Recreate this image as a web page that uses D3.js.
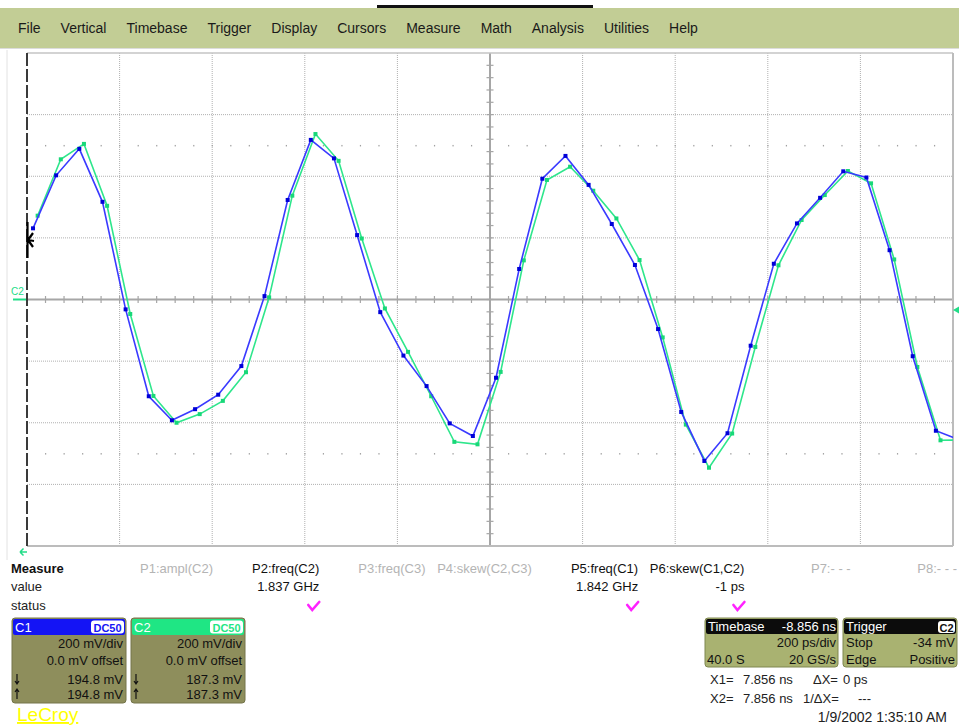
<!DOCTYPE html>
<html>
<head>
<meta charset="utf-8">
<script src="https://cdn.jsdelivr.net/npm/d3@7"></script>
<style>
body { margin: 0; background: #fff; }
svg { display: block; font-family: "Liberation Sans", Arial, sans-serif; }
</style>
</head>
<body>
<div id="scope"></div>
<script>
// ********* data
var menuItems = ["File", "Vertical", "Timebase", "Trigger", "Display", "Cursors", "Measure", "Math", "Analysis", "Utilities", "Help"];

// samples are 50 ps apart (20 GS/s), values in mV
var samplePeriod = 50;
var c1Start = 13;
var c1Values = [231, 403, 489, 317, -32, -314, -392, -356, -309, -216, 11, 323, 518, 458, 209, -41, -182, -281, -402, -443,
  -254, 99, 392, 466, 372, 245, 112, -96, -365, -524, -434, -150, 116, 247, 330, 416, 396, 160, -184, -426, -455];
var c2Start = 23;
var c2Values = [272, 455, 505, 304, -47, -313, -400, -372, -329, -236, 7, 337, 537, 450, 198, -29, -170, -314, -462, -470,
  -235, 127, 388, 431, 353, 263, 128, -123, -406, -546, -435, -154, 111, 258, 339, 417, 377, 130, -219, -457, -456];

var measureNames = ["P1:ampl(C2)", "P2:freq(C2)", "P3:freq(C3)", "P4:skew(C2,C3)", "P5:freq(C1)", "P6:skew(C1,C2)", "P7:- - -", "P8:- - -"];
var measureValues = ["", "1.837 GHz", "", "", "1.842 GHz", "-1 ps", "", ""];
var measureOn = [false, true, false, false, true, true, false, false];

var chNames = ["C1", "C2"];
var chScale = ["200 mV/div", "200 mV/div"];
var chOffset = ["0.0 mV offset", "0.0 mV offset"];
var chDown = ["194.8 mV", "187.3 mV"];
var chUp = ["194.8 mV", "187.3 mV"];
var chColor = ["#1414f5", "#1fe684"];

var triggerLevel = -34;

// ********* svg
var width = 959, height = 725;
var svg = d3.select("#scope").append("svg")
  .attr("width", width)
  .attr("height", height);

// menu bar
svg.append("rect").attr("x", 0).attr("y", 8).attr("width", width).attr("height", 40).attr("fill", "#c2cd95");
svg.append("rect").attr("x", 377).attr("y", 5).attr("width", 216).attr("height", 3).attr("fill", "#111");
svg.append("line").attr("x1", 0).attr("x2", width).attr("y1", 48.5).attr("y2", 48.5).attr("stroke", "#dcdcdc");

var mx = 18;
menuItems.forEach(function(m) {
  var t = svg.append("text").attr("x", mx).attr("y", 33)
    .attr("font-size", 14).attr("fill", "#1a1a1a").text(m);
  mx += t.node().getComputedTextLength() + 20;
});

// ********* grid
var x = d3.scaleLinear().domain([0, 2000]).range([27, 953]);
var y = d3.scaleLinear().domain([-800, 800]).range([546, 53]);

svg.append("line").attr("x1", 7).attr("x2", 7).attr("y1", 50).attr("y2", 560).attr("stroke", "#e2e2e2");

var grid = svg.append("g");
grid.selectAll(".vg").data(d3.range(200, 2000, 200).filter(function(d) { return d != 1000; }))
  .enter().append("line")
  .attr("x1", function(d) { return x(d); }).attr("x2", function(d) { return x(d); })
  .attr("y1", y(800)).attr("y2", y(-800))
  .attr("stroke", "#b0b0b0").attr("stroke-dasharray", "1,1");
grid.selectAll(".hg").data(d3.range(-600, 800, 200).filter(function(d) { return d != 0; }))
  .enter().append("line")
  .attr("x1", x(0)).attr("x2", x(2000))
  .attr("y1", function(d) { return y(d); }).attr("y2", function(d) { return y(d); })
  .attr("stroke", "#b0b0b0").attr("stroke-dasharray", "1,1");

// dotted rows at +-2.5 div
[500, -500].forEach(function(v) {
  grid.selectAll(null).data(d3.range(40, 2000, 40))
    .enter().append("rect")
    .attr("x", function(d) { return x(d) - 0.5; }).attr("y", y(v) - 0.5)
    .attr("width", 1.2).attr("height", 1.5).attr("fill", "#a0a0a0");
});

// center axes with minor ticks
grid.append("line").attr("x1", x(0)).attr("x2", x(2000)).attr("y1", y(0)).attr("y2", y(0))
  .attr("stroke", "#a6a6a6").attr("stroke-width", 2);
grid.append("line").attr("x1", x(1000)).attr("x2", x(1000)).attr("y1", y(800)).attr("y2", y(-800))
  .attr("stroke", "#a6a6a6").attr("stroke-width", 2);
grid.selectAll(".xt").data(d3.range(40, 2000, 40)).enter().append("line")
  .attr("x1", function(d) { return x(d); }).attr("x2", function(d) { return x(d); })
  .attr("y1", y(0) - 3.5).attr("y2", y(0) + 3.5).attr("stroke", "#a6a6a6").attr("stroke-width", 1.2);
grid.selectAll(".yt").data(d3.range(-760, 800, 40)).enter().append("line")
  .attr("x1", x(1000) - 3.5).attr("x2", x(1000) + 3.5)
  .attr("y1", function(d) { return y(d); }).attr("y2", function(d) { return y(d); })
  .attr("stroke", "#a6a6a6").attr("stroke-width", 1.2);

// frame
grid.append("line").attr("x1", x(0)).attr("x2", x(2000)).attr("y1", y(800)).attr("y2", y(800)).attr("stroke", "#c4c4c4").attr("stroke-width", 1.5);
grid.append("line").attr("x1", x(0)).attr("x2", x(2000)).attr("y1", y(-800)).attr("y2", y(-800)).attr("stroke", "#bcbcbc").attr("stroke-width", 2);
grid.append("line").attr("x1", x(2000)).attr("x2", x(2000)).attr("y1", y(800)).attr("y2", y(-800)).attr("stroke", "#bcbcbc").attr("stroke-width", 2);
grid.append("line").attr("x1", x(0)).attr("x2", x(0)).attr("y1", y(800)).attr("y2", y(-800))
  .attr("stroke", "#3a3a3a").attr("stroke-width", 2).attr("stroke-dasharray", "13,3");

// ********* traces
svg.append("clipPath").attr("id", "plotClip").append("rect")
  .attr("x", x(0)).attr("y", y(800)).attr("width", x(2000) - x(0)).attr("height", y(-800) - y(800));

function drawTrace(values, start, lineColor, dotColor) {
  var pts = values.map(function(v, i) { return { t: start + i * samplePeriod, v: v }; });
  var g = svg.append("g").attr("clip-path", "url(#plotClip)");
  g.append("path").datum(pts)
    .attr("d", d3.line().x(function(d) { return x(d.t); }).y(function(d) { return y(d.v); }))
    .attr("fill", "none").attr("stroke", lineColor).attr("stroke-width", 1.6);
  g.selectAll("rect").data(pts).enter().append("rect")
    .attr("x", function(d) { return x(d.t) - 2; }).attr("y", function(d) { return y(d.v) - 2; })
    .attr("width", 4).attr("height", 4).attr("fill", dotColor);
}
drawTrace(c2Values, c2Start, "#2ee68c", "#18d878");
drawTrace(c1Values, c1Start, "#3a3aff", "#0000d8");

// left markers
svg.append("text").attr("x", 11).attr("y", 295).attr("font-size", 10).attr("fill", "#22dd88").text("C2");
svg.append("line").attr("x1", 13).attr("x2", 26).attr("y1", y(0)).attr("y2", y(0)).attr("stroke", "#22dd88").attr("stroke-width", 2);
svg.append("path").attr("d", "M20,552 L27,552 M20,552 L23.5,548.5 M20,552 L23.5,555.5")
  .attr("stroke", "#22dd88").attr("stroke-width", 1.5).attr("fill", "none");
svg.append("path").attr("d", "M27.5,222 L27.5,258 M28,240 L33,233 M28,240 L33,247 M28,240 L34,241")
  .attr("stroke", "#000").attr("stroke-width", 2.2).attr("fill", "none");
// trigger level marker
svg.append("path").attr("d", "M953," + y(triggerLevel) + " l6,-3.5 l0,7 z").attr("fill", "#22dd88");

// ********* measure table
var col = d3.scalePoint().domain(measureNames).range([213, 957]);
svg.append("text").attr("x", 11).attr("y", 573).attr("font-size", 13).attr("font-weight", "bold").attr("fill", "#111").text("Measure");
svg.append("text").attr("x", 11).attr("y", 591).attr("font-size", 13).attr("fill", "#222").text("value");
svg.append("text").attr("x", 11).attr("y", 610).attr("font-size", 13).attr("fill", "#222").text("status");

measureNames.forEach(function(m, i) {
  var cx = col(m);
  svg.append("text").attr("x", cx).attr("y", 573).attr("text-anchor", "end")
    .attr("font-size", 13).attr("fill", measureOn[i] ? "#111" : "#b4b4b4").text(m);
  if (measureOn[i]) {
    svg.append("text").attr("x", cx).attr("y", 591).attr("text-anchor", "end")
      .attr("font-size", 13).attr("fill", "#111").text(measureValues[i]);
    svg.append("path").attr("d", "M" + (cx - 11) + ",605 L" + (cx - 7) + ",610 L" + cx + ",602")
      .attr("stroke", "#ff22ff").attr("stroke-width", 2.6).attr("fill", "none").attr("stroke-linecap", "round");
  }
});

// ********* channel boxes
chNames.forEach(function(c, i) {
  var bx = 12 + i * 119;
  var g = svg.append("g");
  g.append("rect").attr("x", bx).attr("y", 618).attr("width", 114).attr("height", 85).attr("rx", 3)
    .attr("fill", "#8e8e5c").attr("stroke", "#74744a");
  g.append("rect").attr("x", bx + 1).attr("y", 619).attr("width", 112).attr("height", 16).attr("rx", 2).attr("fill", chColor[i]);
  g.append("text").attr("x", bx + 3).attr("y", 632).attr("font-size", 13).attr("fill", "#fff").text(c);
  g.append("rect").attr("x", bx + 79).attr("y", 620.5).attr("width", 33).attr("height", 13).attr("rx", 3).attr("fill", "#fff");
  g.append("text").attr("x", bx + 95.5).attr("y", 631.5).attr("text-anchor", "middle").attr("font-size", 11)
    .attr("font-weight", "bold").attr("fill", chColor[i]).text("DC50");
  var right = bx + 111;
  g.append("text").attr("x", right).attr("y", 648).attr("text-anchor", "end").attr("font-size", 13).attr("fill", "#111").text(chScale[i]);
  g.append("text").attr("x", right).attr("y", 665).attr("text-anchor", "end").attr("font-size", 13).attr("fill", "#111").text(chOffset[i]);
  g.append("text").attr("x", right).attr("y", 684).attr("text-anchor", "end").attr("font-size", 13).attr("fill", "#111").text(chDown[i]);
  g.append("text").attr("x", right).attr("y", 699).attr("text-anchor", "end").attr("font-size", 13).attr("fill", "#111").text(chUp[i]);
  // down / up arrows
  g.append("path").attr("d", "M" + (bx + 5) + ",674 V684 M" + (bx + 3) + ",681 L" + (bx + 5) + ",684 L" + (bx + 7) + ",681")
    .attr("stroke", "#111").attr("stroke-width", 1.2).attr("fill", "none");
  g.append("path").attr("d", "M" + (bx + 5) + ",699 V689 M" + (bx + 3) + ",692 L" + (bx + 5) + ",689 L" + (bx + 7) + ",692")
    .attr("stroke", "#111").attr("stroke-width", 1.2).attr("fill", "none");
});

svg.append("text").attr("x", 17).attr("y", 721).attr("font-size", 19).attr("fill", "#ffff00")
  .attr("text-decoration", "underline").text("LeCroy");

// ********* timebase + trigger boxes
function infoBox(bx, w) {
  var g = svg.append("g");
  g.append("rect").attr("x", bx).attr("y", 618).attr("width", w).attr("height", 49).attr("rx", 3)
    .attr("fill", "#a9b271").attr("stroke", "#7f8750");
  g.append("rect").attr("x", bx + 1).attr("y", 619).attr("width", w - 2).attr("height", 15).attr("rx", 2).attr("fill", "#0c0c0c");
  return g;
}
var tb = infoBox(705, 133);
tb.append("text").attr("x", 708).attr("y", 631).attr("font-size", 13).attr("fill", "#fff").text("Timebase");
tb.append("text").attr("x", 836).attr("y", 631).attr("text-anchor", "end").attr("font-size", 13).attr("fill", "#fff").text("-8.856 ns");
tb.append("text").attr("x", 836).attr("y", 647).attr("text-anchor", "end").attr("font-size", 13).attr("fill", "#111").text("200 ps/div");
tb.append("text").attr("x", 707).attr("y", 664).attr("font-size", 13).attr("fill", "#111").text("40.0 S");
tb.append("text").attr("x", 836).attr("y", 664).attr("text-anchor", "end").attr("font-size", 13).attr("fill", "#111").text("20 GS/s");

var tr = infoBox(843, 114);
tr.append("text").attr("x", 846).attr("y", 631).attr("font-size", 13).attr("fill", "#fff").text("Trigger");
tr.append("rect").attr("x", 938).attr("y", 621).attr("width", 17).attr("height", 12).attr("rx", 3).attr("fill", "#fff");
tr.append("text").attr("x", 946.5).attr("y", 631.5).attr("text-anchor", "middle").attr("font-size", 11).attr("font-weight", "bold").attr("fill", "#111").text("C2");
tr.append("text").attr("x", 846).attr("y", 647).attr("font-size", 13).attr("fill", "#111").text("Stop");
tr.append("text").attr("x", 955).attr("y", 647).attr("text-anchor", "end").attr("font-size", 13).attr("fill", "#111").text(triggerLevel + " mV");
tr.append("text").attr("x", 846).attr("y", 664).attr("font-size", 13).attr("fill", "#111").text("Edge");
tr.append("text").attr("x", 955).attr("y", 664).attr("text-anchor", "end").attr("font-size", 13).attr("fill", "#111").text("Positive");

// cursors readout
function label(tx, ty, s, anchor) {
  svg.append("text").attr("x", tx).attr("y", ty).attr("text-anchor", anchor || "start")
    .attr("font-size", 13).attr("fill", "#222").text(s);
}
label(710, 684, "X1=");
label(743, 684, "7.856 ns");
label(813, 684, "\u0394X=");
label(843, 684, "0 ps");
label(710, 703, "X2=");
label(743, 703, "7.856 ns");
label(803, 703, "1/\u0394X=");
label(858, 703, "---");
svg.append("text").attr("x", 947).attr("y", 722).attr("text-anchor", "end").attr("font-size", 14).attr("fill", "#222").text("1/9/2002 1:35:10 AM");
</script>
</body>
</html>
